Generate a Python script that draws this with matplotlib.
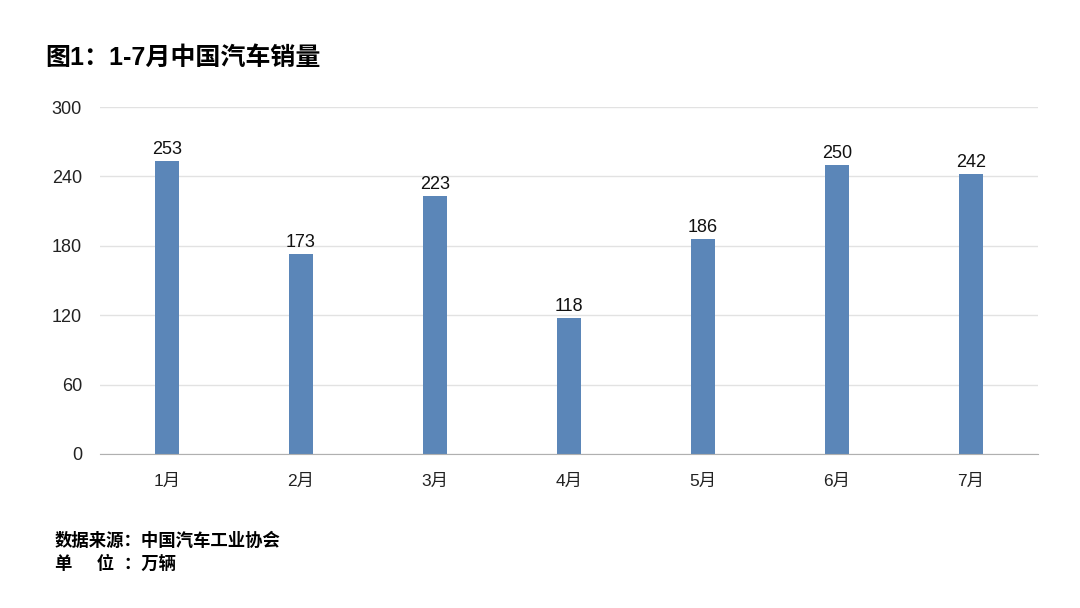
import matplotlib
matplotlib.use('Agg')
import matplotlib.pyplot as plt

plt.rcParams['font.family'] = ['Liberation Sans', 'Noto Sans CJK SC', 'DejaVu Sans']

months = ['1月', '2月', '3月', '4月', '5月', '6月', '7月']
sales = [253, 173, 223, 118, 186, 250, 242]
yticks = [0, 60, 120, 180, 240, 300]

fig = plt.figure(figsize=(10.8, 6.08), dpi=100)
ax = fig.add_axes([0.0926, 0.2533, 0.8685, 0.5707])

x = list(range(len(months)))
bars = ax.bar(x, sales, width=0.18, color='#5B86B8', zorder=3)
for xi, v in zip(x, sales):
    ax.text(xi, v + 2.5, str(v), ha='center', va='bottom', fontsize=13, color='#111111')

ax.set_xlim(-0.5, len(months) - 0.5)
ax.set_ylim(0, 300)
ax.set_yticks(yticks)
ax.set_xticks(x)
ax.set_xticklabels(months, fontsize=12.5)
ax.tick_params(axis='both', length=0, colors='#222222')
ax.tick_params(axis='y', labelsize=13, pad=13)
ax.tick_params(axis='x', pad=14)
ax.grid(axis='y', color='#e2e2e2', linewidth=1, zorder=0)
for s in ['top', 'right', 'left']:
    ax.spines[s].set_visible(False)
ax.spines['bottom'].set_color('#b0b0b0')
ax.spines['bottom'].set_zorder(4)

fig.text(0.042, 0.905, '图1：1-7月中国汽车销量', fontsize=18, fontweight='bold', ha='left', va='center')
fig.text(0.051, 0.111, '数据来源：中国汽车工业协会', fontsize=12.5, fontweight='bold', ha='left', va='center')
fig.text(0.051, 0.073, '单     位  ：万辆', fontsize=12.5, fontweight='bold', ha='left', va='center')

fig.savefig('out.png', dpi=100)
